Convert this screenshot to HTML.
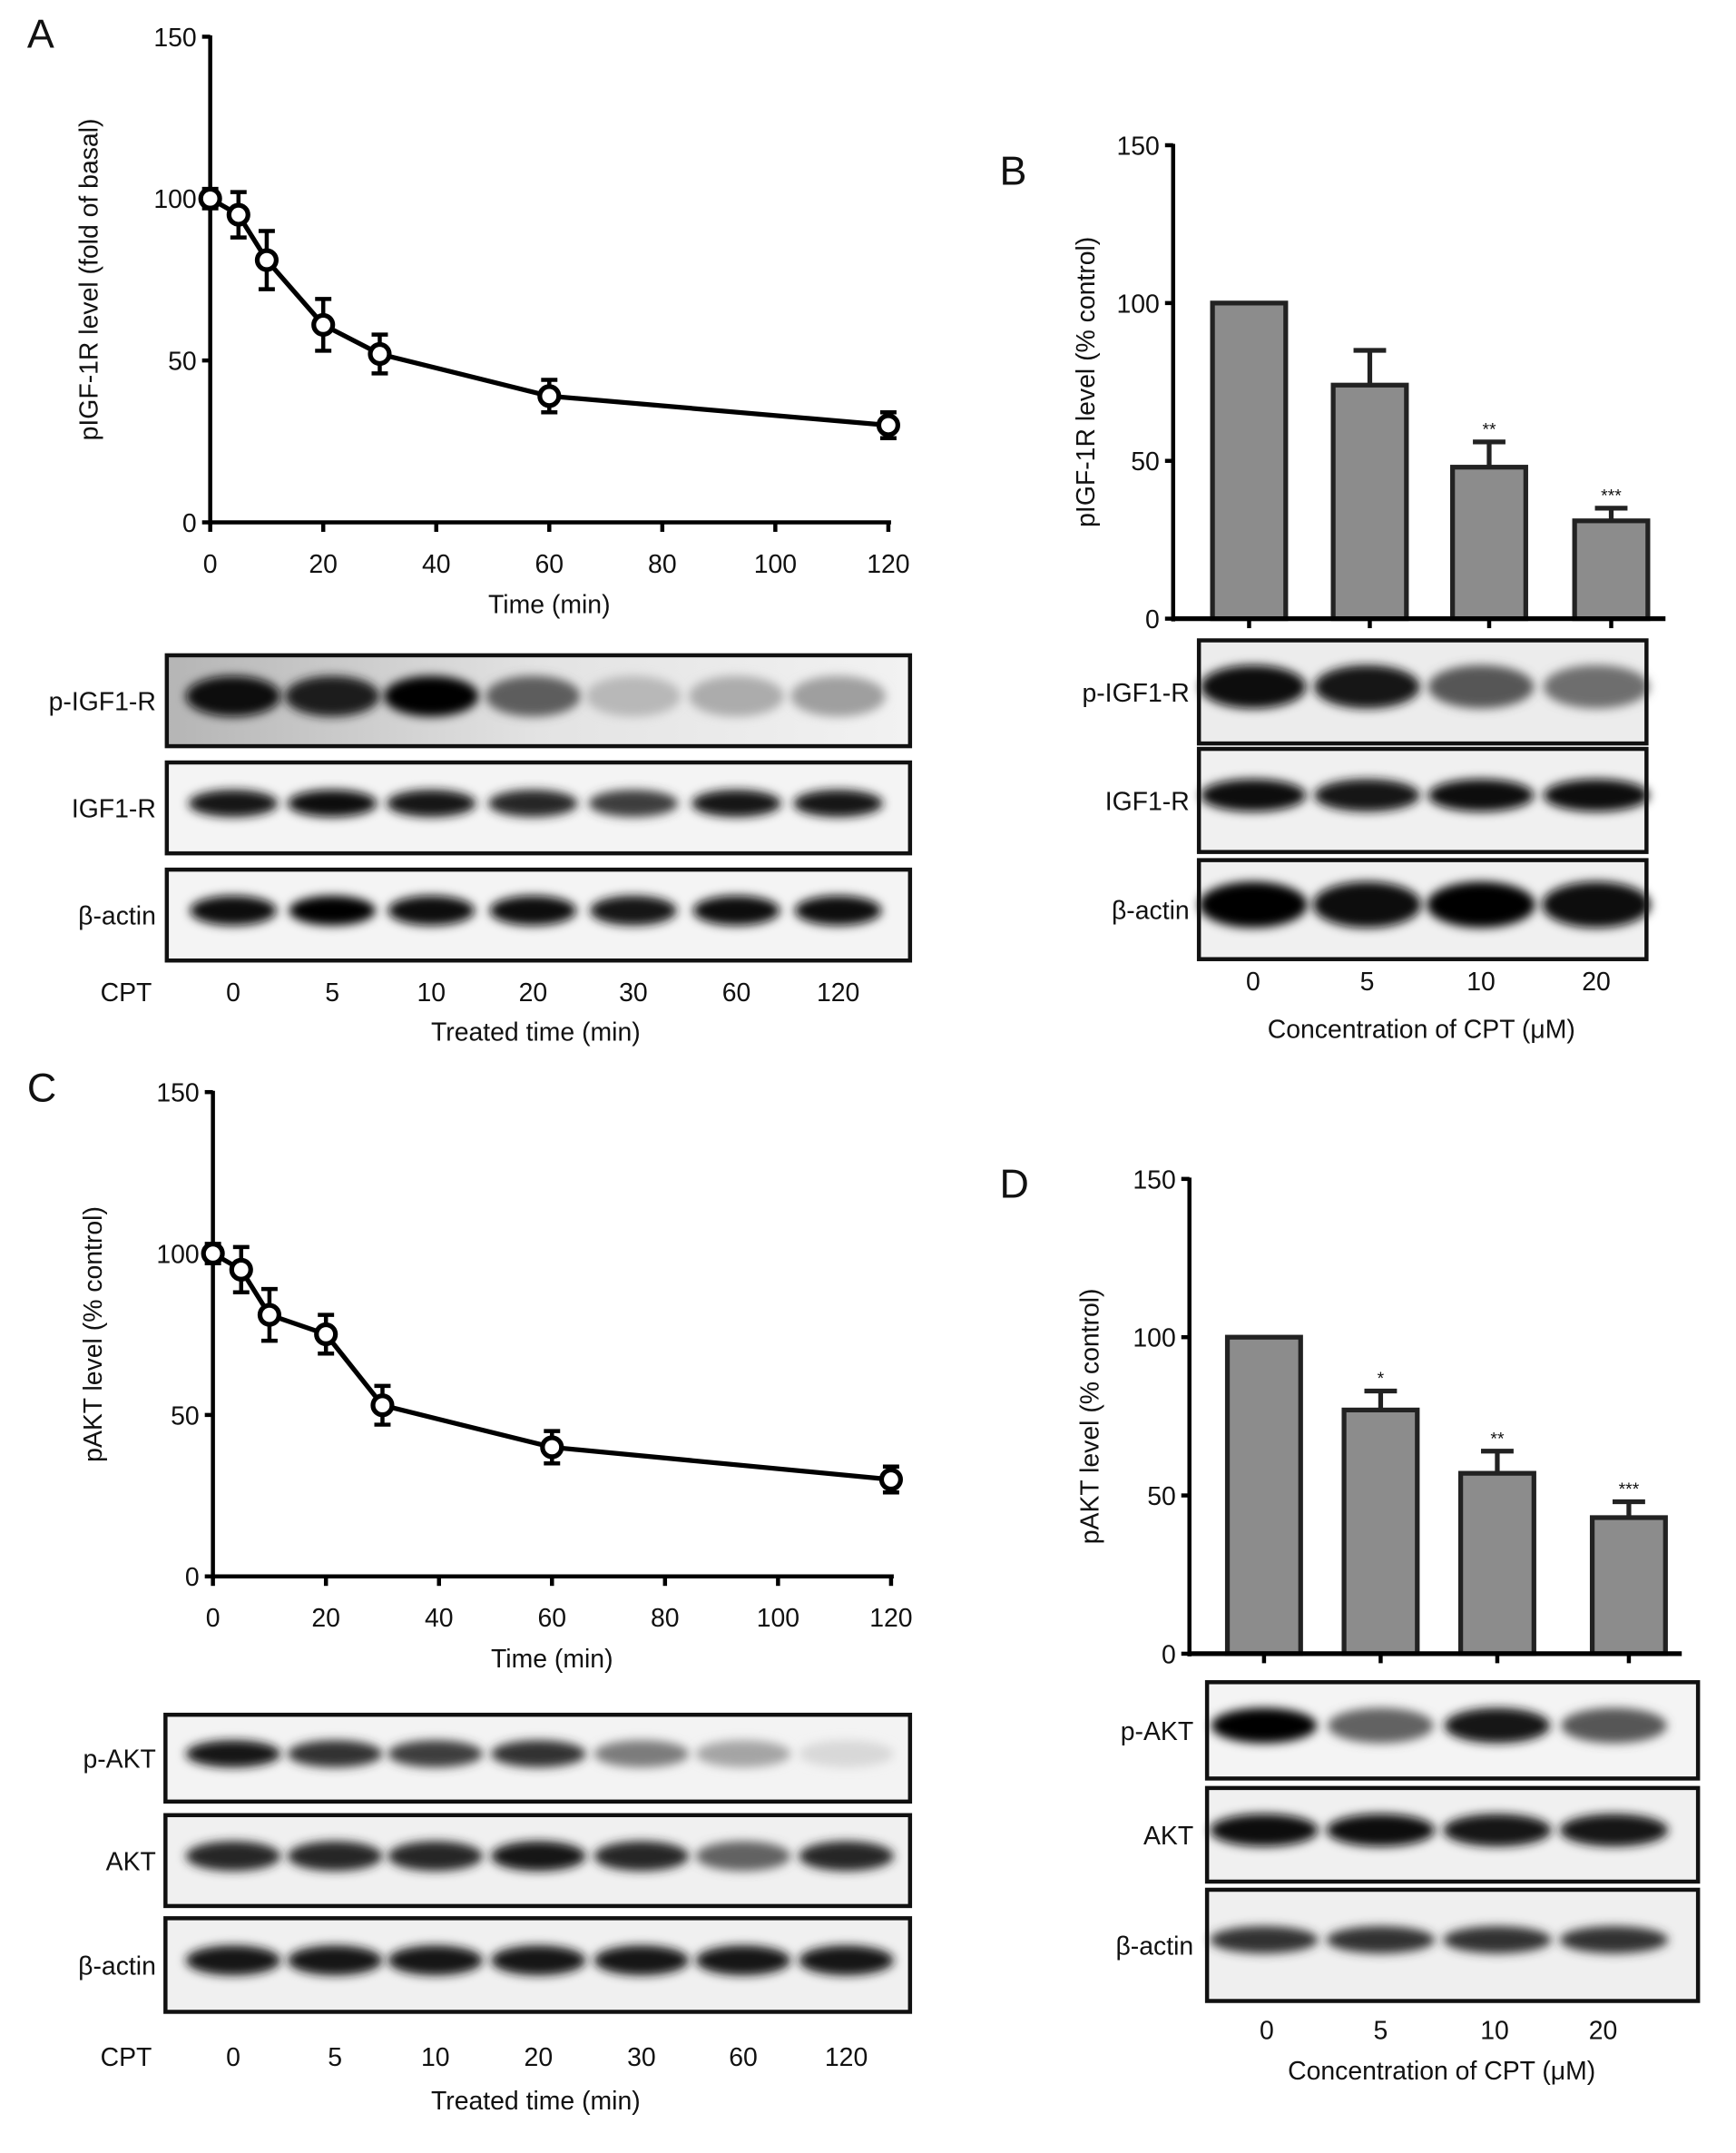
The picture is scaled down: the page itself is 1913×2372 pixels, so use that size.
<!DOCTYPE html>
<html><head><meta charset="utf-8">
<style>
html,body{margin:0;padding:0;background:#fff;}
svg{display:block;}
text{font-family:"Liberation Sans",sans-serif;fill:#111;}
</style></head>
<body>
<svg id="fig" width="1913" height="2372" viewBox="0 0 1280 1587" xmlns="http://www.w3.org/2000/svg">
<defs>
<filter id="blur" x="-50%" y="-100%" width="200%" height="300%"><feGaussianBlur stdDeviation="3.5"/></filter>
<linearGradient id="bgA" x1="0" x2="1"><stop offset="0" stop-color="#b5b5b5"/><stop offset="0.5" stop-color="#e3e3e3"/><stop offset="1" stop-color="#f2f2f2"/></linearGradient>
</defs>
<g id="root"></g>
</svg>
<script>
// ---- data ----
const timeA = [0,5,10,20,30,60,120];
const valA = [100,95,81,61,52,39,30];
const errA = [3,7,9,8,6,5,4];
const timeC = [0,5,10,20,30,60,120];
const valC = [100,95,81,75,53,40,30];
const errC = [3,7,8,6,6,5,4];
const concB = ["0","5","10","20"];
const valB = [100,74,48,31];
const errB = [0,11,8,4];
const sigB = ["","","**","***"];
const concD = ["0","5","10","20"];
const valD = [100,77,57,43];
const errD = [0,6,7,5];
const sigD = ["","*","**","***"];
const yTicks = [0,50,100,150];
const xTicks = [0,20,40,60,80,100,120];
const lanesTime = ["0","5","10","20","30","60","120"];
// blot band intensities (0..1)
const bandA1 = [0.97,0.88,0.98,0.62,0.25,0.3,0.35];
const bandA2 = [0.9,0.97,0.9,0.85,0.75,0.9,0.92];
const bandA3 = [0.95,0.98,0.95,0.93,0.9,0.93,0.95];
const bandB1 = [0.97,0.9,0.65,0.55];
const bandB2 = [0.95,0.9,0.95,0.95];
const bandB3 = [0.98,0.95,0.98,0.95];
const bandC1 = [0.9,0.8,0.75,0.8,0.5,0.33,0.12];
const bandC2 = [0.85,0.85,0.85,0.9,0.85,0.6,0.85];
const bandC3 = [0.9,0.9,0.9,0.9,0.9,0.9,0.9];
const bandD1 = [1.0,0.6,0.9,0.65];
const bandD2 = [0.95,0.95,0.92,0.9];
const bandD3 = [0.8,0.8,0.8,0.8];

const NS="http://www.w3.org/2000/svg";
const root=document.getElementById('root');
function el(tag,attrs,parent,txt){const e=document.createElementNS(NS,tag);for(const k in attrs)e.setAttribute(k,attrs[k]);if(txt!==undefined)e.textContent=txt;(parent||root).appendChild(e);return e;}
function grp(name){const g=el('g',{});


return g;}

function yAxis(g,ax,y0,y150){
  const ys=v=>y0+(y150-y0)*v/150;
  el('line',{x1:ax,y1:ys(150)-1,x2:ax,y2:y0+2,stroke:'#000','stroke-width':3},g);
  yTicks.forEach(t=>{
    el('line',{x1:ax-6,y1:ys(t),x2:ax,y2:ys(t),stroke:'#000','stroke-width':3},g);
    const tx=el('text',{x:ax-10,y:ys(t)+7,'text-anchor':'end','font-size':19},g,String(t));
    
    
  });
  return ys;
}

function linePanel(name,ax,x0,x120,y0,y150,times,vals,errs,ylab,labX){
  const g=grp(name);
  const ys=yAxis(g,ax,y0,y150);
  const xs=v=>x0+(x120-x0)*v/120;
  el('line',{x1:ax,y1:y0,x2:xs(120)+2,y2:y0,stroke:'#000','stroke-width':3},g);
  xTicks.forEach(t=>{
    el('line',{x1:xs(t),y1:y0,x2:xs(t),y2:y0+7,stroke:'#000','stroke-width':3},g);
    const tx=el('text',{x:xs(t),y:y0+37,'text-anchor':'middle','font-size':19},g,String(t));
    
    
  });
  const xt=el('text',{x:(xs(0)+xs(120))/2,y:y0+67,'text-anchor':'middle','font-size':19},g,'Time (min)');
  
  
  const yt=el('text',{x:0,y:0,'text-anchor':'middle','font-size':19,transform:`translate(${labX},${(y0+y150)/2}) rotate(-90)`},g,ylab);
  
  
  let d='';
  times.forEach((t,i)=>{d+=(i?'L':'M')+xs(t)+','+ys(vals[i]);});
  const p=el('path',{d:d,fill:'none',stroke:'#000','stroke-width':3.5},g);
  
  
  times.forEach((t,i)=>{
    const x=xs(t),yt2=ys(vals[i]+errs[i]),yb=ys(vals[i]-errs[i]);
    el('path',{d:`M${x},${yt2}L${x},${yb}M${x-6},${yt2}L${x+6},${yt2}M${x-6},${yb}L${x+6},${yb}`,stroke:'#000','stroke-width':3,fill:'none'},g);
    const c=el('circle',{cx:x,cy:ys(vals[i]),r:7,fill:'#fff',stroke:'#000','stroke-width':3.5},g);
    
    
  });
  return g;
}

function barPanel(name,ax,xend,y0,y150,cats,vals,errs,sigs,centers,bw,ylab,labX){
  const g=grp(name);
  const ys=yAxis(g,ax,y0,y150);
  cats.forEach((c,i)=>{
    const cx=centers[i];
    const r=el('rect',{x:cx-bw/2,y:ys(vals[i]),width:bw,height:y0-ys(vals[i]),fill:'#8c8c8c',stroke:'#222','stroke-width':3.5},g);
    
    
    if(errs[i]>0){
      const yt=ys(vals[i]+errs[i]);
      el('path',{d:`M${cx},${ys(vals[i])}L${cx},${yt}M${cx-12},${yt}L${cx+12},${yt}`,stroke:'#222','stroke-width':3.5,fill:'none'},g);
    }
    if(sigs[i]){
      const s=el('text',{x:cx,y:ys(vals[i]+errs[i])-5,'text-anchor':'middle','font-size':13},g,sigs[i]);
      
      
    }
    el('line',{x1:cx,y1:y0,x2:cx,y2:y0+7,stroke:'#000','stroke-width':3},g);
  });
  el('line',{x1:ax,y1:y0,x2:xend,y2:y0,stroke:'#000','stroke-width':3.5},g);
  const yt=el('text',{x:0,y:0,'text-anchor':'middle','font-size':19,transform:`translate(${labX},${(y0+y150)/2}) rotate(-90)`},g,ylab);
  
  
}

function blot(name,label,labX,x,y,w,h,centers,ints,bandW,bandH,bg){
  const g=grp(name);
  el('rect',{x:x,y:y,width:w,height:h,fill:bg||'#f4f4f4'},g);
  ints.forEach((v,i)=>{
    const gray=Math.round(245-245*v);
    el('ellipse',{cx:centers[i],cy:y+h*0.45,rx:bandW/2,ry:bandH/2,fill:`rgb(${gray},${gray},${gray})`,filter:'url(#blur)'},g);
  });
  el('rect',{x:x,y:y,width:w,height:h,fill:'none',stroke:'#111','stroke-width':3},g);
  const t=el('text',{x:labX,y:y+h/2+7,'text-anchor':'end','font-size':19},g,label);
  
  
}
function laneRow(name,y,centers,labels,firstLabel,firstX,title,titleX,titleY){
  const g=grp(name);
  if(firstLabel){el('text',{x:firstX,y:y,'text-anchor':'middle','font-size':19},g,firstLabel);}
  labels.forEach((l,i)=>{
    const t=el('text',{x:centers[i],y:y,'text-anchor':'middle','font-size':19},g,l);
    
    
  });
  const tt=el('text',{x:titleX,y:titleY,'text-anchor':'middle','font-size':19},g,title);
  
  
}
function panelLabel(txt,x,y){
  const t=el('text',{x:x,y:y,'font-size':30},root,txt);
  
  
}

// Panel A
panelLabel('A',20,35);
linePanel('panel-a-line-chart',155,155,655,385,27,timeA,valA,errA,'pIGF-1R level (fold of basal)',72);
const lanesA=[172,245,318,393,467,543,618];
blot('blot-a-pigf1r','p-IGF1-R',115,123,483,548,67,lanesA,bandA1,70,30,'url(#bgA)');
blot('blot-a-igf1r','IGF1-R',115,123,562,548,67,lanesA,bandA2,66,20);
blot('blot-a-actin','β-actin',115,123,641,548,67,lanesA,bandA3,64,22);
laneRow('lanes-a',738,lanesA,lanesTime,'CPT',93,'Treated time (min)',395,767);

// Panel B
panelLabel('B',737,136);
barPanel('panel-b-bar-chart',865,1228,456,107,concB,valB,errB,sigB,[921,1010,1098,1188],54,'pIGF-1R level (% control)',807);
const lanesB=[924,1008,1092,1177];
blot('blot-b-pigf1r','p-IGF1-R',877,884,472,330,76,lanesB,bandB1,78,32,'#ececec');
blot('blot-b-igf1r','IGF1-R',877,884,552,330,76,lanesB,bandB2,78,24,'#f0f0f0');
blot('blot-b-actin','β-actin',877,884,634,330,73,lanesB,bandB3,80,34,'#f0f0f0');
laneRow('lanes-b',730,lanesB,concB,null,0,'Concentration of CPT (μM)',1048,765);

// Panel C
panelLabel('C',20,812);
linePanel('panel-c-line-chart',157,157,657,1162,805,timeC,valC,errC,'pAKT level (% control)',75);
const lanesC=[172,247,321,397,473,548,624];
blot('blot-c-pakt','p-AKT',115,122,1264,549,64,lanesC,bandC1,70,20,'#f3f3f3');
blot('blot-c-akt','AKT',115,122,1338,549,67,lanesC,bandC2,70,22,'#f0f0f0');
blot('blot-c-actin','β-actin',115,122,1414,549,69,lanesC,bandC3,70,22,'#f0f0f0');
laneRow('lanes-c',1523,lanesC,lanesTime,'CPT',93,'Treated time (min)',395,1555);

// Panel D
panelLabel('D',737,883);
barPanel('panel-d-bar-chart',877,1240,1219,869,concD,valD,errD,sigD,[932,1018,1104,1201],54,'pAKT level (% control)',810);
const lanesD=[932,1018,1104,1190];
blot('blot-d-pakt','p-AKT',880,890,1240,362,71,lanesD,bandD1,78,26,'#f4f4f4');
blot('blot-d-akt','AKT',880,890,1318,362,69,lanesD,bandD2,80,24,'#f0f0f0');
blot('blot-d-actin','β-actin',880,890,1393,362,82,lanesD,bandD3,80,20,'#efefef');
laneRow('lanes-d',1503,[934,1018,1102,1182],concD,null,0,'Concentration of CPT (μM)',1063,1533);
</script>
</body></html>
